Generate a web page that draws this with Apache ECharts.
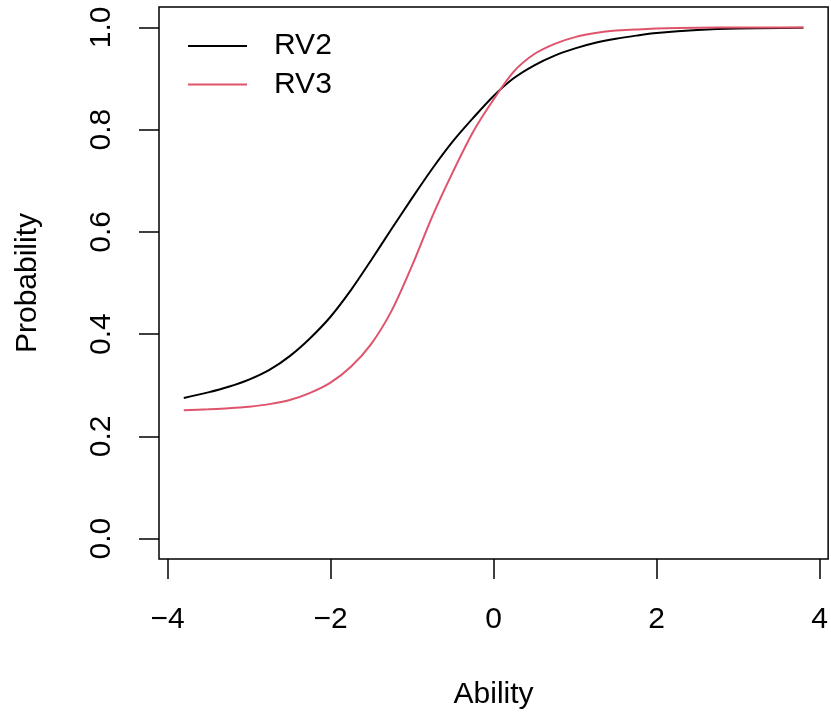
<!DOCTYPE html>
<html>
<head>
<meta charset="utf-8">
<script src="https://cdn.jsdelivr.net/npm/echarts@6/dist/echarts.min.js"></script>
<style>
html,body{margin:0;padding:0;background:#fff;}
#chart{width:831px;height:715px;}
</style>
</head>
<body>
<div id="chart"></div>
<script>
// Data
const ability = [-3.8, -3.5, -3.25, -3.0, -2.75, -2.5, -2.25, -2.0, -1.75, -1.5, -1.25, -1.0, -0.75, -0.5, -0.25, 0.0, 0.25, 0.5, 0.75, 1.0, 1.25, 1.5, 1.75, 2.0, 2.5, 3.0, 3.8];
const rv2 = [0.275, 0.286, 0.297, 0.311, 0.330, 0.357, 0.392, 0.434, 0.486, 0.545, 0.606, 0.666, 0.724, 0.777, 0.823, 0.866, 0.901, 0.926, 0.945, 0.959, 0.970, 0.978, 0.984, 0.989, 0.995, 0.998, 0.9993];
const rv3 = [0.251, 0.253, 0.255, 0.258, 0.263, 0.271, 0.285, 0.305, 0.336, 0.381, 0.446, 0.534, 0.631, 0.717, 0.796, 0.859, 0.914, 0.948, 0.968, 0.981, 0.989, 0.994, 0.996, 0.998, 0.9995, 1.0, 1.0];
const seriesNames = ['RV2', 'RV3'];
const xTicks = [-4, -2, 0, 2, 4];
const yTicks = [0.0, 0.2, 0.4, 0.6, 0.8, 1.0];
const xTitle = 'Ability';
const yTitle = 'Probability';

const FONT = '"Liberation Sans", Arial, Helvetica, sans-serif';
const chart = echarts.init(document.getElementById('chart'), null, {renderer: 'canvas'});

const toPairs = (xs, ys) => xs.map((x, i) => [x, ys[i]]);

chart.setOption({
  animation: false,
  backgroundColor: '#ffffff',
  grid: {
    left: 159, right: 2, top: 7, bottom: 154,
    show: true, borderColor: '#000', borderWidth: 1.5, backgroundColor: 'transparent'
  },
  legend: {
    orient: 'vertical',
    left: 188, top: 31,
    padding: 0,
    icon: 'rect',
    itemWidth: 59, itemHeight: 2, itemGap: 8.5,
    textStyle: {fontSize: 30, fontFamily: FONT, color: '#000', lineHeight: 30, padding: [0, 0, 0, 22]},
    data: seriesNames
  },
  xAxis: {
    type: 'value',
    min: -4.104, max: 4.104,
    name: xTitle, nameLocation: 'middle', nameGap: 121,
    nameTextStyle: {fontSize: 30, fontFamily: FONT, color: '#000', lineHeight: 30},
    axisLine: {show: false, onZero: false},
    splitLine: {show: false},
    axisTick: {show: true, inside: false, length: 20, customValues: xTicks, lineStyle: {color: '#000', width: 1.5}},
    axisLabel: {
      customValues: xTicks, margin: 46, fontSize: 30, fontFamily: FONT, color: '#000', lineHeight: 30,
      formatter: v => (v < 0 ? '\u2212' + Math.abs(v) : String(v))
    }
  },
  yAxis: {
    type: 'value',
    min: -0.04, max: 1.04,
    name: yTitle, nameLocation: 'middle', nameGap: 116, nameRotate: 90,
    nameTextStyle: {fontSize: 30, fontFamily: FONT, color: '#000', lineHeight: 30},
    axisLine: {show: false, onZero: false},
    splitLine: {show: false},
    axisTick: {show: true, inside: false, length: 20, customValues: yTicks, lineStyle: {color: '#000', width: 1.5}},
    axisLabel: {
      customValues: yTicks, margin: 42, rotate: 90, fontSize: 30, fontFamily: FONT, color: '#000', lineHeight: 30,
      formatter: v => Number(v).toFixed(1)
    }
  },
  series: [
    {
      name: seriesNames[0], type: 'line', data: toPairs(ability, rv2),
      symbol: 'none', smooth: 0.3,
      lineStyle: {color: '#000000', width: 2}, itemStyle: {color: '#000000'}
    },
    {
      name: seriesNames[1], type: 'line', data: toPairs(ability, rv3),
      symbol: 'none', smooth: 0.3,
      lineStyle: {color: '#DF536B', width: 2}, itemStyle: {color: '#DF536B'}
    }
  ]
});
</script>
</body>
</html>
